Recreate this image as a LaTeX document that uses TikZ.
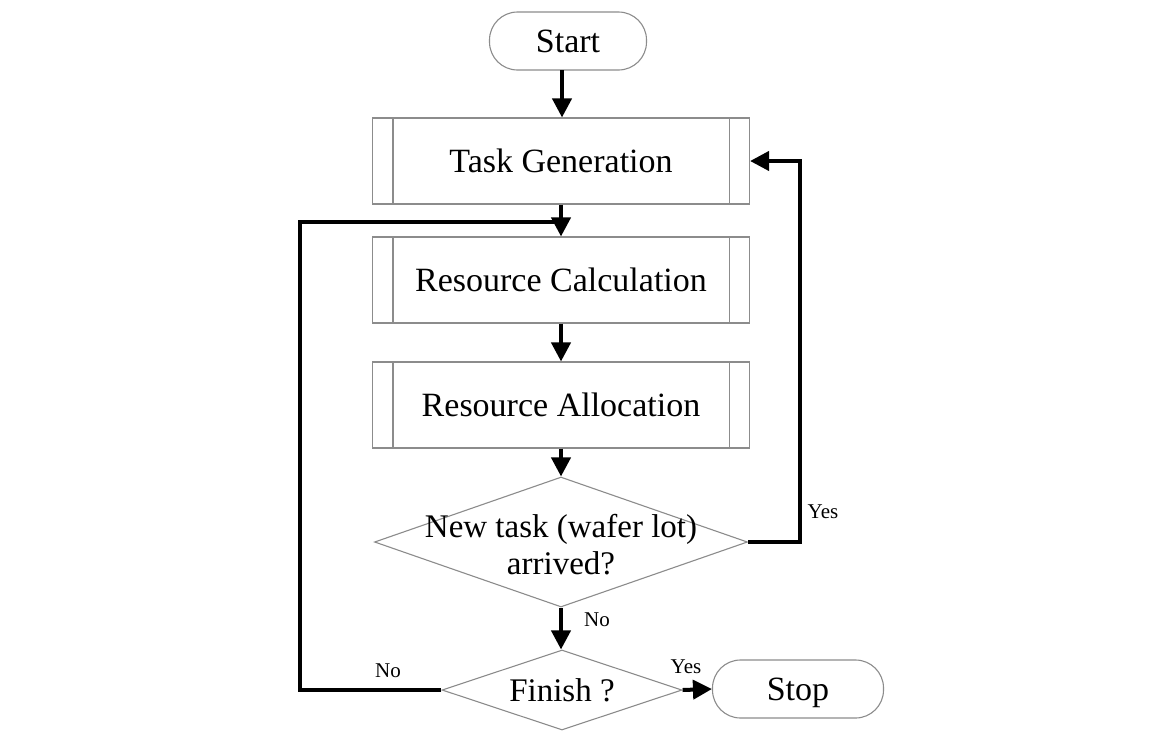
\documentclass[tikz,border=0pt]{standalone}
\usepackage{fontspec}
\setmainfont{Liberation Serif}
\usetikzlibrary{shapes.geometric,arrows.meta}
\begin{document}
\begin{tikzpicture}[x=1pt,y=-1pt,
  box/.style={draw=black!45,line width=1.1pt,fill=white,inner sep=0pt,font=\fontsize{34}{38}\selectfont,text height=22pt,text depth=0pt},
  proc/.style={box,rectangle,minimum width=377pt,minimum height=86pt},
  term/.style={box,rectangle,rounded corners=28pt},
  dec/.style={draw=black!45,line width=1.1pt,fill=white,diamond,inner sep=0pt},
  dtext/.style={font=\fontsize{33}{37}\selectfont,align=center,inner sep=0pt},
  lab/.style={font=\fontsize{21}{24}\selectfont,inner sep=0pt},
  arr/.style={line width=4pt,-{Triangle[length=19pt,width=19pt]},line join=miter},
  ln/.style={line width=4pt,line join=miter}]
\useasboundingbox (0,0) rectangle (1150,731);
\fill[white] (0,0) rectangle (1150,731);

\node[term,minimum width=157pt,minimum height=58pt] (start) at (568,41) {Start};
\node[proc] (tg) at (561,161) {Task Generation};
\node[proc] (rc) at (561,280) {Resource Calculation};
\node[proc] (ra) at (561,405) {Resource Allocation};
\node[dec,minimum width=373pt,minimum height=130pt] (d1) at (561,542) {};
\node[dtext] (d1t) at (561,545) {New task (wafer lot)\\arrived?};
\node[dec,minimum width=240pt,minimum height=80pt] (d2) at (562,690) {};
\node[dtext] (d2t) at (562,690) {Finish ?};
\node[term,minimum width=171pt,minimum height=58pt] (stop) at (798,689) {Stop};

\foreach \n in {tg,rc,ra}{
  \draw[draw=black!45,line width=1.1pt] ([xshift=21pt]\n.north west) -- ([xshift=21pt]\n.south west);
  \draw[draw=black!45,line width=1.1pt] ([xshift=-21pt]\n.north east) -- ([xshift=-21pt]\n.south east);
}

\coordinate (s0) at (562,70);
\coordinate (j) at (561,222);
\coordinate (lc) at (300,690);
\coordinate (yc) at (800,161);

\draw[arr] (s0) -- (s0 |- tg.north);
\draw[arr] (tg.south) -- (rc.north);
\draw[arr] (rc.south) -- (ra.north);
\draw[arr] (ra.south) -- (d1.north);
\draw[arr] (d1.south) -- (d1.south |- d2.north);
\draw[arr] (d2.east) -- (stop.west);
\draw[arr] (d1.east) -| (yc) -- (tg.east);
\draw[ln] (d2.west) -- (lc) |- (j);

\node[lab] (ly1) at (823,512) {Yes};
\node[lab] (ln1) at (597,620) {No};
\node[lab] (ln2) at (388,671) {No};
\node[lab] (ly2) at (686,667) {Yes};
\end{tikzpicture}
\end{document}
